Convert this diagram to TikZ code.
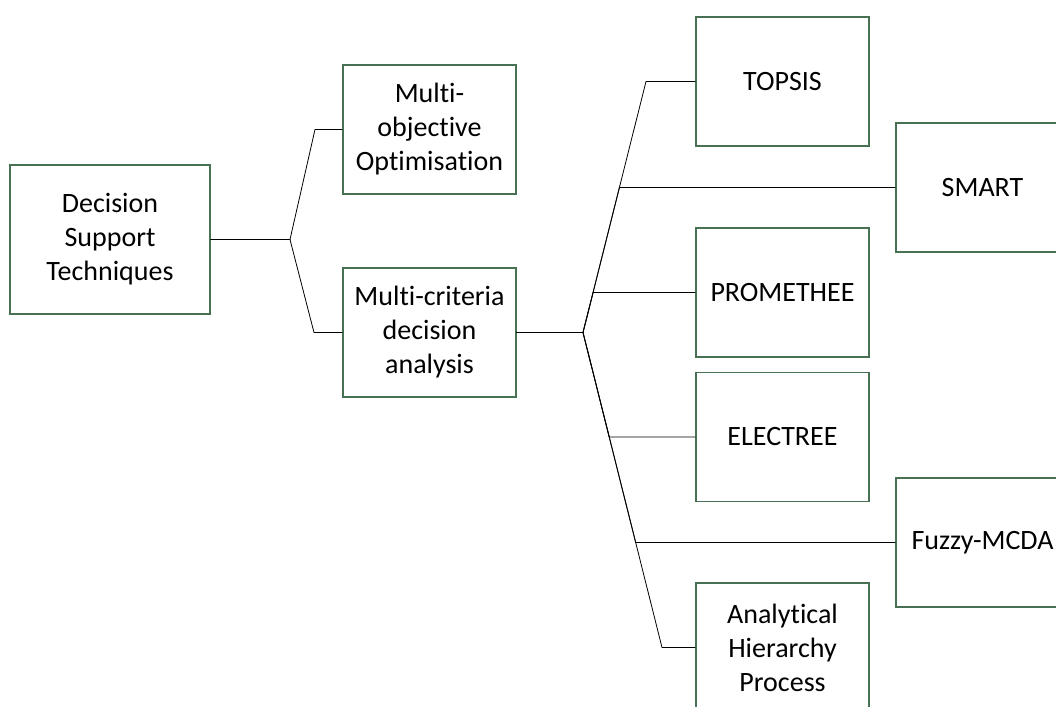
\documentclass[tikz,border=0pt]{standalone}
\usepackage{fontspec}
\setmainfont{Carlito}[Ligatures=NoCommon]
\definecolor{boxline}{RGB}{72,112,82}
\tikzset{
  box/.style={draw=boxline, line width=1.1pt, fill=white, rectangle, align=center,
    minimum width=173pt, minimum height=129pt, inner sep=0pt,
    font=\fontsize{28}{34}\selectfont},
  link/.style={draw=black, line width=0.8pt}
}
\begin{document}
\begin{tikzpicture}[x=1pt,y=-1pt]
\useasboundingbox (0,0) rectangle (1056,706);
\clip (0,0) rectangle (1056,706);
\node[box, minimum width=200pt, minimum height=149pt] (dst) at (110,239.5) {Decision\\Support\\Techniques};
\node[box] (mo) at (429.5,129.5) {Multi-\\objective\\Optimisation};
\node[box] (mc) at (429.5,332.5) {Multi-criteria\\decision\\analysis};
\node[box] (topsis) at (782.5,81.5) {TOPSIS};
\node[box] (smart) at (982.5,187.5) {SMART};
\node[box] (prom) at (782.5,292.5) {PROMETHEE};
\node[box] (elec) at (782.5,437) {ELECTREE};
\node[box] (fuzzy) at (982.5,542.5) {Fuzzy-MCDA};
\node[box] (ahp) at (782.5,647.5) {Analytical\\Hierarchy\\Process};

\coordinate (d) at (290,239.5);
\coordinate (du) at (315,129.5);
\coordinate (dl) at (314,332.5);
\draw[link] (dst.east) -- (d) -- (du) -- (mo.west);
\draw[link] (dst.east) -- (d) -- (dl) -- (mc.west);

\coordinate (j) at (583,332.5);
\coordinate (tt) at (646,81.5);
\coordinate (bb) at (662,647.5);
\draw[link] (mc.east) -- (j) -- (tt) -- (topsis.west);
\draw[link] (mc.east) -- (j) -- (intersection of j--tt and smart.west--smart.east) -- (smart.west);
\draw[link] (mc.east) -- (j) -- (intersection of j--tt and prom.west--prom.east) -- (prom.west);
\draw[link] (mc.east) -- (j) -- (intersection of j--bb and elec.west--elec.east) -- (elec.west);
\draw[link] (mc.east) -- (j) -- (intersection of j--bb and fuzzy.west--fuzzy.east) -- (fuzzy.west);
\draw[link] (mc.east) -- (j) -- (bb) -- (ahp.west);
\end{tikzpicture}
\end{document}
